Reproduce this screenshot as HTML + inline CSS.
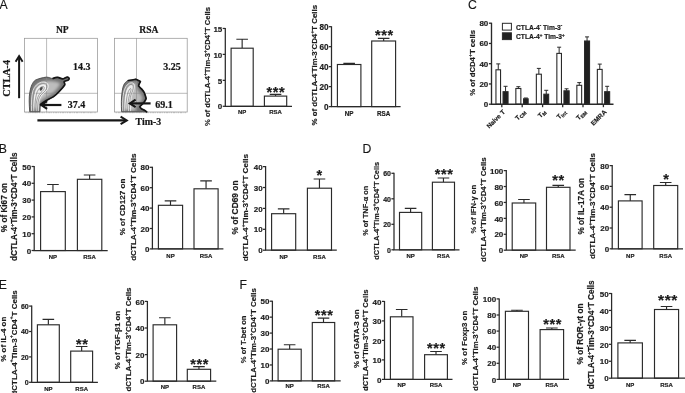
<!DOCTYPE html>
<html><head><meta charset="utf-8"><title>Figure</title>
<style>
html,body{margin:0;padding:0;background:#fff;}
body{width:685px;height:393px;overflow:hidden;font-family:"Liberation Sans",sans-serif;}
svg{display:block;filter:grayscale(1);}
svg text{white-space:pre;}
</style></head><body>
<svg width="685" height="393" viewBox="0 0 685 393">
<rect width="685" height="393" fill="#fff"/>
<g font-family="Liberation Sans, sans-serif" font-weight="bold" fill="#1c1c1c" stroke="#1c1c1c" stroke-width="0.18">
<path d="M242.15 48.20V39.20M236.35 39.20H247.95" stroke="#2a2a2a" stroke-width="1.15" fill="none"/>
<rect x="231.10" y="48.20" width="22.10" height="58.10" fill="#fff" stroke="#2a2a2a" stroke-width="1.15"/>
<text x="242.15" y="114.30" text-anchor="middle" font-size="6.0">NP</text>
<path d="M275.55 96.10V94.40M269.75 94.40H281.35" stroke="#2a2a2a" stroke-width="1.15" fill="none"/>
<rect x="264.40" y="96.10" width="22.30" height="10.20" fill="#fff" stroke="#2a2a2a" stroke-width="1.15"/>
<text x="275.90" y="97.49" text-anchor="middle" font-size="14.5" letter-spacing="0.6">***</text>
<text x="275.55" y="114.30" text-anchor="middle" font-size="6.0">RSA</text>
<path d="M225.30 27.95V106.30H292.00" stroke="#2a2a2a" stroke-width="1.25" fill="none"/>
<path d="M222.70 106.30H225.30" stroke="#2a2a2a" stroke-width="1.25"/>
<text x="222.30" y="109.48" text-anchor="end" font-size="8.0">0</text>
<path d="M222.70 80.35H225.30" stroke="#2a2a2a" stroke-width="1.25"/>
<text x="222.30" y="83.53" text-anchor="end" font-size="8.0">5</text>
<path d="M222.70 54.40H225.30" stroke="#2a2a2a" stroke-width="1.25"/>
<text x="222.30" y="57.58" text-anchor="end" font-size="8.0">10</text>
<path d="M222.70 28.45H225.30" stroke="#2a2a2a" stroke-width="1.25"/>
<text x="222.30" y="31.63" text-anchor="end" font-size="8.0">15</text>
<text transform="translate(209.80,66.50) rotate(-90)" text-anchor="middle" font-size="7.6" >% of dCTLA-4<tspan dy="-0.58em" font-size="0.66em">+</tspan><tspan dy="0.3828em">Tim-3</tspan><tspan dy="-0.58em" font-size="0.66em">+</tspan><tspan dy="0.3828em">CD4</tspan><tspan dy="-0.58em" font-size="0.66em">+</tspan><tspan dy="0.3828em">T Cells</tspan></text>
<path d="M349.15 64.50V63.40M343.35 63.40H354.95" stroke="#2a2a2a" stroke-width="1.15" fill="none"/>
<rect x="337.40" y="64.50" width="23.50" height="42.10" fill="#fff" stroke="#2a2a2a" stroke-width="1.15"/>
<text x="349.15" y="115.50" text-anchor="middle" font-size="6.3">NP</text>
<path d="M383.65 41.00V38.30M377.85 38.30H389.45" stroke="#2a2a2a" stroke-width="1.15" fill="none"/>
<rect x="371.70" y="41.00" width="23.90" height="65.60" fill="#fff" stroke="#2a2a2a" stroke-width="1.15"/>
<text x="384.30" y="40.09" text-anchor="middle" font-size="14.5" letter-spacing="0.6">***</text>
<text x="383.65" y="115.50" text-anchor="middle" font-size="6.3">RSA</text>
<path d="M331.50 26.20V106.60H400.60" stroke="#2a2a2a" stroke-width="1.25" fill="none"/>
<path d="M328.90 106.60H331.50" stroke="#2a2a2a" stroke-width="1.25"/>
<text x="328.50" y="109.85" text-anchor="end" font-size="8.2">0</text>
<path d="M328.90 86.62H331.50" stroke="#2a2a2a" stroke-width="1.25"/>
<text x="328.50" y="89.88" text-anchor="end" font-size="8.2">20</text>
<path d="M328.90 66.65H331.50" stroke="#2a2a2a" stroke-width="1.25"/>
<text x="328.50" y="69.90" text-anchor="end" font-size="8.2">40</text>
<path d="M328.90 46.67H331.50" stroke="#2a2a2a" stroke-width="1.25"/>
<text x="328.50" y="49.93" text-anchor="end" font-size="8.2">60</text>
<path d="M328.90 26.70H331.50" stroke="#2a2a2a" stroke-width="1.25"/>
<text x="328.50" y="29.95" text-anchor="end" font-size="8.2">80</text>
<text transform="translate(316.60,65.20) rotate(-90)" text-anchor="middle" font-size="7.88" >% of dCTLA-4<tspan dy="-0.58em" font-size="0.66em">-</tspan><tspan dy="0.3828em">Tim-3</tspan><tspan dy="-0.58em" font-size="0.66em">-</tspan><tspan dy="0.3828em">CD4</tspan><tspan dy="-0.58em" font-size="0.66em">+</tspan><tspan dy="0.3828em">T Cells</tspan></text>
<path d="M52.95 191.60V184.50M47.15 184.50H58.75" stroke="#2a2a2a" stroke-width="1.15" fill="none"/>
<rect x="40.60" y="191.60" width="24.70" height="58.90" fill="#fff" stroke="#2a2a2a" stroke-width="1.15"/>
<text x="52.95" y="258.60" text-anchor="middle" font-size="6.0">NP</text>
<path d="M89.60 179.30V175.00M83.80 175.00H95.40" stroke="#2a2a2a" stroke-width="1.15" fill="none"/>
<rect x="77.40" y="179.30" width="24.40" height="71.20" fill="#fff" stroke="#2a2a2a" stroke-width="1.15"/>
<text x="89.60" y="258.60" text-anchor="middle" font-size="6.0">RSA</text>
<path d="M34.20 166.00V250.50H107.70" stroke="#2a2a2a" stroke-width="1.25" fill="none"/>
<path d="M31.60 250.50H34.20" stroke="#2a2a2a" stroke-width="1.25"/>
<text x="31.20" y="253.68" text-anchor="end" font-size="8.0">0</text>
<path d="M31.60 233.70H34.20" stroke="#2a2a2a" stroke-width="1.25"/>
<text x="31.20" y="236.88" text-anchor="end" font-size="8.0">10</text>
<path d="M31.60 216.90H34.20" stroke="#2a2a2a" stroke-width="1.25"/>
<text x="31.20" y="220.08" text-anchor="end" font-size="8.0">20</text>
<path d="M31.60 200.10H34.20" stroke="#2a2a2a" stroke-width="1.25"/>
<text x="31.20" y="203.28" text-anchor="end" font-size="8.0">30</text>
<path d="M31.60 183.30H34.20" stroke="#2a2a2a" stroke-width="1.25"/>
<text x="31.20" y="186.48" text-anchor="end" font-size="8.0">40</text>
<path d="M31.60 166.50H34.20" stroke="#2a2a2a" stroke-width="1.25"/>
<text x="31.20" y="169.68" text-anchor="end" font-size="8.0">50</text>
<text transform="translate(6.80,207.60) rotate(-90)" text-anchor="middle" font-size="8.2" >% of Ki67 on</text>
<text transform="translate(17.40,206.80) rotate(-90)" text-anchor="middle" font-size="8.2" >dCTLA-4<tspan dy="-0.58em" font-size="0.66em">+</tspan><tspan dy="0.3828em">Tim-3</tspan><tspan dy="-0.58em" font-size="0.66em">+</tspan><tspan dy="0.3828em">CD4</tspan><tspan dy="-0.58em" font-size="0.66em">+</tspan><tspan dy="0.3828em">T Cells</tspan></text>
<path d="M170.50 205.30V200.90M164.70 200.90H176.30" stroke="#2a2a2a" stroke-width="1.15" fill="none"/>
<rect x="158.40" y="205.30" width="24.20" height="43.60" fill="#fff" stroke="#2a2a2a" stroke-width="1.15"/>
<text x="170.50" y="257.70" text-anchor="middle" font-size="6.0">NP</text>
<path d="M206.05 188.80V180.90M200.25 180.90H211.85" stroke="#2a2a2a" stroke-width="1.15" fill="none"/>
<rect x="194.00" y="188.80" width="24.10" height="60.10" fill="#fff" stroke="#2a2a2a" stroke-width="1.15"/>
<text x="206.05" y="257.70" text-anchor="middle" font-size="6.0">RSA</text>
<path d="M152.40 166.80V248.90H223.40" stroke="#2a2a2a" stroke-width="1.25" fill="none"/>
<path d="M149.80 248.90H152.40" stroke="#2a2a2a" stroke-width="1.25"/>
<text x="149.40" y="252.08" text-anchor="end" font-size="8.0">0</text>
<path d="M149.80 228.50H152.40" stroke="#2a2a2a" stroke-width="1.25"/>
<text x="149.40" y="231.68" text-anchor="end" font-size="8.0">20</text>
<path d="M149.80 208.10H152.40" stroke="#2a2a2a" stroke-width="1.25"/>
<text x="149.40" y="211.28" text-anchor="end" font-size="8.0">40</text>
<path d="M149.80 187.70H152.40" stroke="#2a2a2a" stroke-width="1.25"/>
<text x="149.40" y="190.88" text-anchor="end" font-size="8.0">60</text>
<path d="M149.80 167.30H152.40" stroke="#2a2a2a" stroke-width="1.25"/>
<text x="149.40" y="170.48" text-anchor="end" font-size="8.0">80</text>
<text transform="translate(125.10,207.00) rotate(-90)" text-anchor="middle" font-size="8.1" >% of CD127 on</text>
<text transform="translate(135.80,207.20) rotate(-90)" text-anchor="middle" font-size="8.1" >dCTLA-4<tspan dy="-0.58em" font-size="0.66em">+</tspan><tspan dy="0.3828em">Tim-3</tspan><tspan dy="-0.58em" font-size="0.66em">+</tspan><tspan dy="0.3828em">CD4</tspan><tspan dy="-0.58em" font-size="0.66em">+</tspan><tspan dy="0.3828em">T Cells</tspan></text>
<path d="M283.65 213.70V208.90M277.85 208.90H289.45" stroke="#2a2a2a" stroke-width="1.15" fill="none"/>
<rect x="271.60" y="213.70" width="24.10" height="36.50" fill="#fff" stroke="#2a2a2a" stroke-width="1.15"/>
<text x="283.65" y="258.60" text-anchor="middle" font-size="6.0">NP</text>
<path d="M319.45 188.20V179.00M313.65 179.00H325.25" stroke="#2a2a2a" stroke-width="1.15" fill="none"/>
<rect x="307.40" y="188.20" width="24.10" height="62.00" fill="#fff" stroke="#2a2a2a" stroke-width="1.15"/>
<text x="319.70" y="180.19" text-anchor="middle" font-size="14.5" letter-spacing="0.6">*</text>
<text x="319.45" y="258.60" text-anchor="middle" font-size="6.0">RSA</text>
<path d="M265.60 166.10V250.20H336.80" stroke="#2a2a2a" stroke-width="1.25" fill="none"/>
<path d="M263.00 250.20H265.60" stroke="#2a2a2a" stroke-width="1.25"/>
<text x="262.60" y="253.38" text-anchor="end" font-size="8.0">0</text>
<path d="M263.00 229.30H265.60" stroke="#2a2a2a" stroke-width="1.25"/>
<text x="262.60" y="232.48" text-anchor="end" font-size="8.0">10</text>
<path d="M263.00 208.40H265.60" stroke="#2a2a2a" stroke-width="1.25"/>
<text x="262.60" y="211.58" text-anchor="end" font-size="8.0">20</text>
<path d="M263.00 187.50H265.60" stroke="#2a2a2a" stroke-width="1.25"/>
<text x="262.60" y="190.68" text-anchor="end" font-size="8.0">30</text>
<path d="M263.00 166.60H265.60" stroke="#2a2a2a" stroke-width="1.25"/>
<text x="262.60" y="169.78" text-anchor="end" font-size="8.0">40</text>
<text transform="translate(237.50,207.40) rotate(-90)" text-anchor="middle" font-size="8.4" >% of CD69 on</text>
<text transform="translate(248.10,207.70) rotate(-90)" text-anchor="middle" font-size="8.1" >dCTLA-4<tspan dy="-0.58em" font-size="0.66em">+</tspan><tspan dy="0.3828em">Tim-3</tspan><tspan dy="-0.58em" font-size="0.66em">+</tspan><tspan dy="0.3828em">CD4</tspan><tspan dy="-0.58em" font-size="0.66em">+</tspan><tspan dy="0.3828em">T Cells</tspan></text>
<path d="M410.60 212.40V208.40M404.80 208.40H416.40" stroke="#2a2a2a" stroke-width="1.15" fill="none"/>
<rect x="399.50" y="212.40" width="22.20" height="37.40" fill="#fff" stroke="#2a2a2a" stroke-width="1.15"/>
<text x="410.60" y="257.70" text-anchor="middle" font-size="6.0">NP</text>
<path d="M443.45 182.20V178.00M437.65 178.00H449.25" stroke="#2a2a2a" stroke-width="1.15" fill="none"/>
<rect x="432.40" y="182.20" width="22.10" height="67.60" fill="#fff" stroke="#2a2a2a" stroke-width="1.15"/>
<text x="444.10" y="179.29" text-anchor="middle" font-size="14.5" letter-spacing="0.6">***</text>
<text x="443.45" y="257.70" text-anchor="middle" font-size="6.0">RSA</text>
<path d="M394.00 172.80V249.80H459.50" stroke="#2a2a2a" stroke-width="1.25" fill="none"/>
<path d="M391.40 249.80H394.00" stroke="#2a2a2a" stroke-width="1.25"/>
<text x="391.00" y="252.62" text-anchor="end" font-size="7.0">0</text>
<path d="M391.40 224.30H394.00" stroke="#2a2a2a" stroke-width="1.25"/>
<text x="391.00" y="227.12" text-anchor="end" font-size="7.0">20</text>
<path d="M391.40 198.80H394.00" stroke="#2a2a2a" stroke-width="1.25"/>
<text x="391.00" y="201.62" text-anchor="end" font-size="7.0">40</text>
<path d="M391.40 173.30H394.00" stroke="#2a2a2a" stroke-width="1.25"/>
<text x="391.00" y="176.12" text-anchor="end" font-size="7.0">60</text>
<text transform="translate(368.30,210.80) rotate(-90)" text-anchor="middle" font-size="7.4" >% of TNF-α on</text>
<text transform="translate(378.60,210.80) rotate(-90)" text-anchor="middle" font-size="7.4" >dCTLA-4<tspan dy="-0.58em" font-size="0.66em">+</tspan><tspan dy="0.3828em">Tim-3</tspan><tspan dy="-0.58em" font-size="0.66em">+</tspan><tspan dy="0.3828em">CD4</tspan><tspan dy="-0.58em" font-size="0.66em">+</tspan><tspan dy="0.3828em">T Cells</tspan></text>
<path d="M523.95 203.00V199.50M518.15 199.50H529.75" stroke="#2a2a2a" stroke-width="1.15" fill="none"/>
<rect x="512.20" y="203.00" width="23.50" height="47.20" fill="#fff" stroke="#2a2a2a" stroke-width="1.15"/>
<text x="523.95" y="258.20" text-anchor="middle" font-size="6.0">NP</text>
<path d="M558.25 187.30V185.40M552.45 185.40H564.05" stroke="#2a2a2a" stroke-width="1.15" fill="none"/>
<rect x="546.50" y="187.30" width="23.50" height="62.90" fill="#fff" stroke="#2a2a2a" stroke-width="1.15"/>
<text x="558.40" y="185.49" text-anchor="middle" font-size="14.5" letter-spacing="0.6">**</text>
<text x="558.25" y="258.20" text-anchor="middle" font-size="6.0">RSA</text>
<path d="M506.30 170.10V250.20H575.70" stroke="#2a2a2a" stroke-width="1.25" fill="none"/>
<path d="M503.70 250.20H506.30" stroke="#2a2a2a" stroke-width="1.25"/>
<text x="503.30" y="253.38" text-anchor="end" font-size="8.0">0</text>
<path d="M503.70 234.28H506.30" stroke="#2a2a2a" stroke-width="1.25"/>
<text x="503.30" y="237.46" text-anchor="end" font-size="8.0">20</text>
<path d="M503.70 218.36H506.30" stroke="#2a2a2a" stroke-width="1.25"/>
<text x="503.30" y="221.54" text-anchor="end" font-size="8.0">40</text>
<path d="M503.70 202.44H506.30" stroke="#2a2a2a" stroke-width="1.25"/>
<text x="503.30" y="205.62" text-anchor="end" font-size="8.0">60</text>
<path d="M503.70 186.52H506.30" stroke="#2a2a2a" stroke-width="1.25"/>
<text x="503.30" y="189.70" text-anchor="end" font-size="8.0">80</text>
<path d="M503.70 170.60H506.30" stroke="#2a2a2a" stroke-width="1.25"/>
<text x="503.30" y="173.78" text-anchor="end" font-size="8.0">100</text>
<text transform="translate(475.50,209.20) rotate(-90)" text-anchor="middle" font-size="7.65" >% of IFN-γ on</text>
<text transform="translate(486.30,209.60) rotate(-90)" text-anchor="middle" font-size="7.9" >dCTLA-4<tspan dy="-0.58em" font-size="0.66em">+</tspan><tspan dy="0.3828em">Tim-3</tspan><tspan dy="-0.58em" font-size="0.66em">+</tspan><tspan dy="0.3828em">CD4</tspan><tspan dy="-0.58em" font-size="0.66em">+</tspan><tspan dy="0.3828em">T Cells</tspan></text>
<path d="M630.25 200.90V194.60M624.45 194.60H636.05" stroke="#2a2a2a" stroke-width="1.15" fill="none"/>
<rect x="618.40" y="200.90" width="23.70" height="47.90" fill="#fff" stroke="#2a2a2a" stroke-width="1.15"/>
<text x="630.25" y="257.70" text-anchor="middle" font-size="6.0">NP</text>
<path d="M665.70 185.50V182.50M659.90 182.50H671.50" stroke="#2a2a2a" stroke-width="1.15" fill="none"/>
<rect x="653.70" y="185.50" width="24.00" height="63.30" fill="#fff" stroke="#2a2a2a" stroke-width="1.15"/>
<text x="666.40" y="183.79" text-anchor="middle" font-size="14.5" letter-spacing="0.6">*</text>
<text x="665.70" y="257.70" text-anchor="middle" font-size="6.0">RSA</text>
<path d="M612.20 165.10V248.80H683.00" stroke="#2a2a2a" stroke-width="1.25" fill="none"/>
<path d="M609.60 248.80H612.20" stroke="#2a2a2a" stroke-width="1.25"/>
<text x="609.20" y="251.98" text-anchor="end" font-size="8.0">0</text>
<path d="M609.60 228.00H612.20" stroke="#2a2a2a" stroke-width="1.25"/>
<text x="609.20" y="231.18" text-anchor="end" font-size="8.0">20</text>
<path d="M609.60 207.20H612.20" stroke="#2a2a2a" stroke-width="1.25"/>
<text x="609.20" y="210.38" text-anchor="end" font-size="8.0">40</text>
<path d="M609.60 186.40H612.20" stroke="#2a2a2a" stroke-width="1.25"/>
<text x="609.20" y="189.58" text-anchor="end" font-size="8.0">60</text>
<path d="M609.60 165.60H612.20" stroke="#2a2a2a" stroke-width="1.25"/>
<text x="609.20" y="168.78" text-anchor="end" font-size="8.0">80</text>
<text transform="translate(584.00,206.30) rotate(-90)" text-anchor="middle" font-size="8.17" >% of IL-17A on</text>
<text transform="translate(594.90,206.10) rotate(-90)" text-anchor="middle" font-size="8.0" >dCTLA-4<tspan dy="-0.58em" font-size="0.66em">+</tspan><tspan dy="0.3828em">Tim-3</tspan><tspan dy="-0.58em" font-size="0.66em">+</tspan><tspan dy="0.3828em">CD4</tspan><tspan dy="-0.58em" font-size="0.66em">+</tspan><tspan dy="0.3828em">T Cells</tspan></text>
<path d="M48.35 324.80V319.30M42.55 319.30H54.15" stroke="#2a2a2a" stroke-width="1.15" fill="none"/>
<rect x="37.40" y="324.80" width="21.90" height="57.50" fill="#fff" stroke="#2a2a2a" stroke-width="1.15"/>
<text x="48.35" y="390.70" text-anchor="middle" font-size="6.0">NP</text>
<path d="M81.65 351.10V346.50M75.85 346.50H87.45" stroke="#2a2a2a" stroke-width="1.15" fill="none"/>
<rect x="70.70" y="351.10" width="21.90" height="31.20" fill="#fff" stroke="#2a2a2a" stroke-width="1.15"/>
<text x="82.20" y="348.79" text-anchor="middle" font-size="14.5" letter-spacing="0.6">**</text>
<text x="81.65" y="390.70" text-anchor="middle" font-size="6.0">RSA</text>
<path d="M31.70 305.60V382.30H97.90" stroke="#2a2a2a" stroke-width="1.25" fill="none"/>
<path d="M29.10 382.30H31.70" stroke="#2a2a2a" stroke-width="1.25"/>
<text x="28.70" y="385.12" text-anchor="end" font-size="7.0">0</text>
<path d="M29.10 356.90H31.70" stroke="#2a2a2a" stroke-width="1.25"/>
<text x="28.70" y="359.72" text-anchor="end" font-size="7.0">20</text>
<path d="M29.10 331.50H31.70" stroke="#2a2a2a" stroke-width="1.25"/>
<text x="28.70" y="334.32" text-anchor="end" font-size="7.0">40</text>
<path d="M29.10 306.10H31.70" stroke="#2a2a2a" stroke-width="1.25"/>
<text x="28.70" y="308.92" text-anchor="end" font-size="7.0">60</text>
<text transform="translate(6.40,339.20) rotate(-90)" text-anchor="middle" font-size="7.95" >% of IL-4 on</text>
<text transform="translate(16.50,342.90) rotate(-90)" text-anchor="middle" font-size="7.95" >dCTLA-4<tspan dy="-0.58em" font-size="0.66em">+</tspan><tspan dy="0.3828em">Tim-3</tspan><tspan dy="-0.58em" font-size="0.66em">+</tspan><tspan dy="0.3828em">CD4</tspan><tspan dy="-0.58em" font-size="0.66em">+</tspan><tspan dy="0.3828em">T Cells</tspan></text>
<path d="M164.85 324.80V317.70M159.05 317.70H170.65" stroke="#2a2a2a" stroke-width="1.15" fill="none"/>
<rect x="153.10" y="324.80" width="23.50" height="56.40" fill="#fff" stroke="#2a2a2a" stroke-width="1.15"/>
<text x="164.85" y="388.90" text-anchor="middle" font-size="6.0">NP</text>
<path d="M198.95 369.30V366.60M193.15 366.60H204.75" stroke="#2a2a2a" stroke-width="1.15" fill="none"/>
<rect x="187.30" y="369.30" width="23.30" height="11.90" fill="#fff" stroke="#2a2a2a" stroke-width="1.15"/>
<text x="199.70" y="368.79" text-anchor="middle" font-size="14.5" letter-spacing="0.6">***</text>
<text x="198.95" y="388.90" text-anchor="middle" font-size="6.0">RSA</text>
<path d="M147.40 300.90V381.20H216.30" stroke="#2a2a2a" stroke-width="1.25" fill="none"/>
<path d="M144.80 381.20H147.40" stroke="#2a2a2a" stroke-width="1.25"/>
<text x="144.40" y="384.38" text-anchor="end" font-size="8.0">0</text>
<path d="M144.80 354.60H147.40" stroke="#2a2a2a" stroke-width="1.25"/>
<text x="144.40" y="357.78" text-anchor="end" font-size="8.0">20</text>
<path d="M144.80 328.00H147.40" stroke="#2a2a2a" stroke-width="1.25"/>
<text x="144.40" y="331.18" text-anchor="end" font-size="8.0">40</text>
<path d="M144.80 301.40H147.40" stroke="#2a2a2a" stroke-width="1.25"/>
<text x="144.40" y="304.58" text-anchor="end" font-size="8.0">60</text>
<text transform="translate(119.90,340.00) rotate(-90)" text-anchor="middle" font-size="7.9" >% of TGF-β1 on</text>
<text transform="translate(130.70,339.50) rotate(-90)" text-anchor="middle" font-size="7.85" >dCTLA-4<tspan dy="-0.58em" font-size="0.66em">+</tspan><tspan dy="0.3828em">Tim-3</tspan><tspan dy="-0.58em" font-size="0.66em">+</tspan><tspan dy="0.3828em">CD4</tspan><tspan dy="-0.58em" font-size="0.66em">+</tspan><tspan dy="0.3828em">T Cells</tspan></text>
<path d="M289.65 349.20V344.70M283.85 344.70H295.45" stroke="#2a2a2a" stroke-width="1.15" fill="none"/>
<rect x="278.10" y="349.20" width="23.10" height="31.70" fill="#fff" stroke="#2a2a2a" stroke-width="1.15"/>
<text x="289.65" y="388.00" text-anchor="middle" font-size="6.0">NP</text>
<path d="M323.50 322.50V318.10M317.70 318.10H329.30" stroke="#2a2a2a" stroke-width="1.15" fill="none"/>
<rect x="312.30" y="322.50" width="22.40" height="58.40" fill="#fff" stroke="#2a2a2a" stroke-width="1.15"/>
<text x="324.10" y="319.79" text-anchor="middle" font-size="14.5" letter-spacing="0.6">***</text>
<text x="323.50" y="388.00" text-anchor="middle" font-size="6.0">RSA</text>
<path d="M272.40 300.70V380.90H340.70" stroke="#2a2a2a" stroke-width="1.25" fill="none"/>
<path d="M269.80 380.90H272.40" stroke="#2a2a2a" stroke-width="1.25"/>
<text x="269.40" y="384.08" text-anchor="end" font-size="8.0">0</text>
<path d="M269.80 364.96H272.40" stroke="#2a2a2a" stroke-width="1.25"/>
<text x="269.40" y="368.14" text-anchor="end" font-size="8.0">10</text>
<path d="M269.80 349.02H272.40" stroke="#2a2a2a" stroke-width="1.25"/>
<text x="269.40" y="352.20" text-anchor="end" font-size="8.0">20</text>
<path d="M269.80 333.08H272.40" stroke="#2a2a2a" stroke-width="1.25"/>
<text x="269.40" y="336.26" text-anchor="end" font-size="8.0">30</text>
<path d="M269.80 317.14H272.40" stroke="#2a2a2a" stroke-width="1.25"/>
<text x="269.40" y="320.32" text-anchor="end" font-size="8.0">40</text>
<path d="M269.80 301.20H272.40" stroke="#2a2a2a" stroke-width="1.25"/>
<text x="269.40" y="304.38" text-anchor="end" font-size="8.0">50</text>
<text transform="translate(245.60,339.40) rotate(-90)" text-anchor="middle" font-size="7.6" >% of T-bet on</text>
<text transform="translate(256.00,340.50) rotate(-90)" text-anchor="middle" font-size="7.9" >dCTLA-4<tspan dy="-0.58em" font-size="0.66em">+</tspan><tspan dy="0.3828em">Tim-3</tspan><tspan dy="-0.58em" font-size="0.66em">+</tspan><tspan dy="0.3828em">CD4</tspan><tspan dy="-0.58em" font-size="0.66em">+</tspan><tspan dy="0.3828em">T Cells</tspan></text>
<path d="M401.70 316.80V309.50M395.90 309.50H407.50" stroke="#2a2a2a" stroke-width="1.15" fill="none"/>
<rect x="390.40" y="316.80" width="22.60" height="62.60" fill="#fff" stroke="#2a2a2a" stroke-width="1.15"/>
<text x="401.70" y="387.10" text-anchor="middle" font-size="6.0">NP</text>
<path d="M436.00 354.70V351.50M430.20 351.50H441.80" stroke="#2a2a2a" stroke-width="1.15" fill="none"/>
<rect x="424.60" y="354.70" width="22.80" height="24.70" fill="#fff" stroke="#2a2a2a" stroke-width="1.15"/>
<text x="436.40" y="353.09" text-anchor="middle" font-size="14.5" letter-spacing="0.6">***</text>
<text x="436.00" y="387.10" text-anchor="middle" font-size="6.0">RSA</text>
<path d="M384.50 300.90V379.40H452.50" stroke="#2a2a2a" stroke-width="1.25" fill="none"/>
<path d="M381.90 379.40H384.50" stroke="#2a2a2a" stroke-width="1.25"/>
<text x="381.50" y="382.58" text-anchor="end" font-size="8.0">0</text>
<path d="M381.90 359.90H384.50" stroke="#2a2a2a" stroke-width="1.25"/>
<text x="381.50" y="363.08" text-anchor="end" font-size="8.0">10</text>
<path d="M381.90 340.40H384.50" stroke="#2a2a2a" stroke-width="1.25"/>
<text x="381.50" y="343.58" text-anchor="end" font-size="8.0">20</text>
<path d="M381.90 320.90H384.50" stroke="#2a2a2a" stroke-width="1.25"/>
<text x="381.50" y="324.08" text-anchor="end" font-size="8.0">30</text>
<path d="M381.90 301.40H384.50" stroke="#2a2a2a" stroke-width="1.25"/>
<text x="381.50" y="304.58" text-anchor="end" font-size="8.0">40</text>
<text transform="translate(358.50,338.80) rotate(-90)" text-anchor="middle" font-size="7.85" >% of GATA-3 on</text>
<text transform="translate(368.40,340.20) rotate(-90)" text-anchor="middle" font-size="7.66" >dCTLA-4<tspan dy="-0.58em" font-size="0.66em">+</tspan><tspan dy="0.3828em">Tim-3</tspan><tspan dy="-0.58em" font-size="0.66em">+</tspan><tspan dy="0.3828em">CD4</tspan><tspan dy="-0.58em" font-size="0.66em">+</tspan><tspan dy="0.3828em">T Cells</tspan></text>
<path d="M516.95 311.30V310.20M511.15 310.20H522.75" stroke="#2a2a2a" stroke-width="1.15" fill="none"/>
<rect x="505.40" y="311.30" width="23.10" height="68.10" fill="#fff" stroke="#2a2a2a" stroke-width="1.15"/>
<text x="516.95" y="387.10" text-anchor="middle" font-size="6.0">NP</text>
<path d="M551.85 329.60V328.00M546.05 328.00H557.65" stroke="#2a2a2a" stroke-width="1.15" fill="none"/>
<rect x="540.10" y="329.60" width="23.50" height="49.80" fill="#fff" stroke="#2a2a2a" stroke-width="1.15"/>
<text x="552.70" y="329.09" text-anchor="middle" font-size="14.5" letter-spacing="0.6">***</text>
<text x="551.85" y="387.10" text-anchor="middle" font-size="6.0">RSA</text>
<path d="M499.20 298.40V379.40H569.00" stroke="#2a2a2a" stroke-width="1.25" fill="none"/>
<path d="M496.60 379.40H499.20" stroke="#2a2a2a" stroke-width="1.25"/>
<text x="496.20" y="382.58" text-anchor="end" font-size="8.0">0</text>
<path d="M496.60 363.30H499.20" stroke="#2a2a2a" stroke-width="1.25"/>
<text x="496.20" y="366.48" text-anchor="end" font-size="8.0">20</text>
<path d="M496.60 347.20H499.20" stroke="#2a2a2a" stroke-width="1.25"/>
<text x="496.20" y="350.38" text-anchor="end" font-size="8.0">40</text>
<path d="M496.60 331.10H499.20" stroke="#2a2a2a" stroke-width="1.25"/>
<text x="496.20" y="334.28" text-anchor="end" font-size="8.0">60</text>
<path d="M496.60 315.00H499.20" stroke="#2a2a2a" stroke-width="1.25"/>
<text x="496.20" y="318.18" text-anchor="end" font-size="8.0">80</text>
<path d="M496.60 298.90H499.20" stroke="#2a2a2a" stroke-width="1.25"/>
<text x="496.20" y="302.08" text-anchor="end" font-size="8.0">100</text>
<text transform="translate(467.40,337.80) rotate(-90)" text-anchor="middle" font-size="7.95" >% of Foxp3 on</text>
<text transform="translate(478.10,338.80) rotate(-90)" text-anchor="middle" font-size="7.87" >dCTLA-4<tspan dy="-0.58em" font-size="0.66em">+</tspan><tspan dy="0.3828em">Tim-3</tspan><tspan dy="-0.58em" font-size="0.66em">+</tspan><tspan dy="0.3828em">CD4</tspan><tspan dy="-0.58em" font-size="0.66em">+</tspan><tspan dy="0.3828em">T Cells</tspan></text>
<path d="M630.15 342.90V340.30M624.35 340.30H635.95" stroke="#2a2a2a" stroke-width="1.15" fill="none"/>
<rect x="617.90" y="342.90" width="24.50" height="35.30" fill="#fff" stroke="#2a2a2a" stroke-width="1.15"/>
<text x="630.15" y="386.60" text-anchor="middle" font-size="6">NP</text>
<path d="M666.55 309.50V306.50M660.75 306.50H672.35" stroke="#2a2a2a" stroke-width="1.15" fill="none"/>
<rect x="654.50" y="309.50" width="24.10" height="68.70" fill="#fff" stroke="#2a2a2a" stroke-width="1.15"/>
<text x="668.00" y="305.46" text-anchor="middle" font-size="15.5" letter-spacing="0.6">***</text>
<text x="666.55" y="386.60" text-anchor="middle" font-size="6">RSA</text>
<path d="M611.60 293.00V378.20H690.00" stroke="#2a2a2a" stroke-width="1.25" fill="none"/>
<path d="M609.00 378.20H611.60" stroke="#2a2a2a" stroke-width="1.25"/>
<text x="608.60" y="381.38" text-anchor="end" font-size="8.0">0</text>
<path d="M609.00 361.26H611.60" stroke="#2a2a2a" stroke-width="1.25"/>
<text x="608.60" y="364.44" text-anchor="end" font-size="8.0">10</text>
<path d="M609.00 344.32H611.60" stroke="#2a2a2a" stroke-width="1.25"/>
<text x="608.60" y="347.50" text-anchor="end" font-size="8.0">20</text>
<path d="M609.00 327.38H611.60" stroke="#2a2a2a" stroke-width="1.25"/>
<text x="608.60" y="330.56" text-anchor="end" font-size="8.0">30</text>
<path d="M609.00 310.44H611.60" stroke="#2a2a2a" stroke-width="1.25"/>
<text x="608.60" y="313.62" text-anchor="end" font-size="8.0">40</text>
<path d="M609.00 293.50H611.60" stroke="#2a2a2a" stroke-width="1.25"/>
<text x="608.60" y="296.68" text-anchor="end" font-size="8.0">50</text>
<text transform="translate(583.30,334.00) rotate(-90)" text-anchor="middle" font-size="8.35" >% of ROR-γt on</text>
<text transform="translate(594.40,334.80) rotate(-90)" text-anchor="middle" font-size="8.23" >dCTLA-4<tspan dy="-0.58em" font-size="0.66em">+</tspan><tspan dy="0.3828em">Tim-3</tspan><tspan dy="-0.58em" font-size="0.66em">+</tspan><tspan dy="0.3828em">CD4</tspan><tspan dy="-0.58em" font-size="0.66em">+</tspan><tspan dy="0.3828em">T Cells</tspan></text>
<path d="M498.25 69.80V63.90M496.25 63.90H500.25" stroke="#2a2a2a" stroke-width="1" fill="none"/>
<rect x="495.95" y="69.80" width="4.60" height="34.40" fill="#fff" stroke="#2a2a2a" stroke-width="1.1"/>
<path d="M505.55 91.70V86.30M503.55 86.30H507.55" stroke="#2a2a2a" stroke-width="1" fill="none"/>
<rect x="503.05" y="91.70" width="5.00" height="12.50" fill="#231f20" stroke="#2a2a2a" stroke-width="1.1"/>
<path d="M501.80 104.20V107.20" stroke="#2a2a2a" stroke-width="1.3"/>
<path d="M518.35 88.50V86.70M516.35 86.70H520.35" stroke="#2a2a2a" stroke-width="1" fill="none"/>
<rect x="515.85" y="88.50" width="5.00" height="15.70" fill="#fff" stroke="#2a2a2a" stroke-width="1.1"/>
<path d="M525.85 98.80V98.00M523.85 98.00H527.85" stroke="#2a2a2a" stroke-width="1" fill="none"/>
<rect x="523.55" y="98.80" width="4.60" height="5.40" fill="#231f20" stroke="#2a2a2a" stroke-width="1.1"/>
<path d="M522.20 104.20V107.20" stroke="#2a2a2a" stroke-width="1.3"/>
<path d="M538.85 74.20V68.40M536.85 68.40H540.85" stroke="#2a2a2a" stroke-width="1" fill="none"/>
<rect x="536.35" y="74.20" width="5.00" height="30.00" fill="#fff" stroke="#2a2a2a" stroke-width="1.1"/>
<path d="M546.25 94.20V90.30M544.25 90.30H548.25" stroke="#2a2a2a" stroke-width="1" fill="none"/>
<rect x="543.85" y="94.20" width="4.80" height="10.00" fill="#231f20" stroke="#2a2a2a" stroke-width="1.1"/>
<path d="M542.60 104.20V107.20" stroke="#2a2a2a" stroke-width="1.3"/>
<path d="M559.15 53.40V47.20M557.15 47.20H561.15" stroke="#2a2a2a" stroke-width="1" fill="none"/>
<rect x="556.85" y="53.40" width="4.60" height="50.80" fill="#fff" stroke="#2a2a2a" stroke-width="1.1"/>
<path d="M566.55 90.80V88.80M564.55 88.80H568.55" stroke="#2a2a2a" stroke-width="1" fill="none"/>
<rect x="563.95" y="90.80" width="5.20" height="13.40" fill="#231f20" stroke="#2a2a2a" stroke-width="1.1"/>
<path d="M562.70 104.20V107.20" stroke="#2a2a2a" stroke-width="1.3"/>
<path d="M579.25 85.30V82.60M577.25 82.60H581.25" stroke="#2a2a2a" stroke-width="1" fill="none"/>
<rect x="576.85" y="85.30" width="4.80" height="18.90" fill="#fff" stroke="#2a2a2a" stroke-width="1.1"/>
<path d="M587.05 41.00V36.90M585.05 36.90H589.05" stroke="#2a2a2a" stroke-width="1" fill="none"/>
<rect x="584.55" y="41.00" width="5.00" height="63.20" fill="#231f20" stroke="#2a2a2a" stroke-width="1.1"/>
<path d="M583.00 104.20V107.20" stroke="#2a2a2a" stroke-width="1.3"/>
<path d="M599.75 69.40V64.10M597.75 64.10H601.75" stroke="#2a2a2a" stroke-width="1" fill="none"/>
<rect x="597.35" y="69.40" width="4.80" height="34.80" fill="#fff" stroke="#2a2a2a" stroke-width="1.1"/>
<path d="M607.15 91.70V86.30M605.15 86.30H609.15" stroke="#2a2a2a" stroke-width="1" fill="none"/>
<rect x="604.65" y="91.70" width="5.00" height="12.50" fill="#231f20" stroke="#2a2a2a" stroke-width="1.1"/>
<path d="M603.40 104.20V107.20" stroke="#2a2a2a" stroke-width="1.3"/>
<path d="M491.50 22.70V104.20H613.5" stroke="#2a2a2a" stroke-width="1.35" fill="none"/>
<path d="M488.90 104.20H491.50" stroke="#2a2a2a" stroke-width="1.3"/>
<text x="488.30" y="107.05" text-anchor="end" font-size="8">0</text>
<path d="M488.90 83.95H491.50" stroke="#2a2a2a" stroke-width="1.3"/>
<text x="488.30" y="86.80" text-anchor="end" font-size="8">20</text>
<path d="M488.90 63.70H491.50" stroke="#2a2a2a" stroke-width="1.3"/>
<text x="488.30" y="66.55" text-anchor="end" font-size="8">40</text>
<path d="M488.90 43.45H491.50" stroke="#2a2a2a" stroke-width="1.3"/>
<text x="488.30" y="46.30" text-anchor="end" font-size="8">60</text>
<path d="M488.90 23.20H491.50" stroke="#2a2a2a" stroke-width="1.3"/>
<text x="488.30" y="26.05" text-anchor="end" font-size="8">80</text>
<text transform="translate(475.20,62.90) rotate(-90)" text-anchor="middle" font-size="7.75" >% of dCD4<tspan dy="-0.58em" font-size="0.66em">+</tspan><tspan dy="0.3828em">T cells</tspan></text>
<rect x="502.4" y="23.3" width="9" height="6.8" fill="#fff" stroke="#2a2a2a" stroke-width="1"/>
<rect x="502.4" y="32.8" width="9" height="6.8" fill="#231f20" stroke="#2a2a2a" stroke-width="1"/>
<text x="516" y="29.7" font-size="6.7">CTLA-4<tspan dy="-0.58em" font-size="0.66em">-</tspan><tspan dy="0.3828em"> Tim-3</tspan><tspan dy="-0.58em" font-size="0.66em">-</tspan></text>
<text x="516" y="39.2" font-size="6.7">CTLA-4<tspan dy="-0.58em" font-size="0.66em">+</tspan><tspan dy="0.3828em"> Tim-3</tspan><tspan dy="-0.58em" font-size="0.66em">+</tspan></text>
<text transform="translate(505.50,112.50) rotate(-45)" text-anchor="end" font-size="6.5">Naive T</text>
<text transform="translate(526.00,112.50) rotate(-45)" text-anchor="end" font-size="6.5">T<tspan dy="1.3" font-size="4.9">CM</tspan></text>
<text transform="translate(546.30,112.50) rotate(-45)" text-anchor="end" font-size="6.5">T<tspan dy="1.3" font-size="4.9">M</tspan></text>
<text transform="translate(566.40,112.50) rotate(-45)" text-anchor="end" font-size="6.5">T<tspan dy="1.3" font-size="4.9">int</tspan></text>
<text transform="translate(586.70,112.50) rotate(-45)" text-anchor="end" font-size="6.5">T<tspan dy="1.3" font-size="4.9">EM</tspan></text>
<text transform="translate(607.00,112.50) rotate(-45)" text-anchor="end" font-size="6.5">EMRA</text>
</g>
<g font-family="Liberation Sans, sans-serif" fill="#151515" font-size="13.6" stroke="#151515" stroke-width="0.15">
<text transform="translate(-0.4,9.4) scale(0.9,1)">A</text>
<text transform="translate(468.0,8.8) scale(0.9,1)">C</text>
<text transform="translate(-1.2,153.3) scale(0.9,1)">B</text>
<text transform="translate(362.4,153.3) scale(0.9,1)">D</text>
<text transform="translate(-1.2,289.2) scale(0.9,1)">E</text>
<text transform="translate(239.4,289.2) scale(0.9,1)">F</text>
</g>
<defs><filter id="bl" x="-30%" y="-30%" width="160%" height="160%"><feGaussianBlur stdDeviation="1.6"/></filter><filter id="bl2" x="-30%" y="-30%" width="160%" height="160%"><feGaussianBlur stdDeviation="0.9"/></filter></defs>
<rect x="24.4" y="38.3" width="73.20" height="73.70" fill="#fff" stroke="#969696" stroke-width="0.75"/>
<path d="M25.4 112.7H96.6" stroke="#9a9a9a" stroke-width="0.6" stroke-dasharray="1.3 0.9 2.1 0.7 0.8 1.1"/>
<clipPath id="cp1"><path d="M29.7 111.8 C29.2 104 28.8 97 29.9 92 C31 86 32.5 82.5 35.2 80.2 C39 78.4 43 77.6 46.3 77.1 C49 77 51 78.8 53.2 78.4 C55 77.6 56.5 77.2 57.8 77.4 C60 77.8 61.5 79.2 63.5 78.7 C65 78.2 66.5 76.8 68.1 77.2 C69.6 77.8 69.4 79.6 68 80.2 C66.5 80.9 65 80.8 64.2 81.6 C64 82.8 65.2 83.8 64.7 85 C63 87.5 61 89.5 59 91.8 C57 94 55.3 95.6 53.2 96.9 C51 98.2 48.6 99.3 46.3 100.4 C44.2 101.7 42.2 102.9 40.6 104.4 C40 106.5 40.1 109 40 111.8 Z"/></clipPath>
<path d="M29.7 111.8 C29.2 104 28.8 97 29.9 92 C31 86 32.5 82.5 35.2 80.2 C39 78.4 43 77.6 46.3 77.1 C49 77 51 78.8 53.2 78.4 C55 77.6 56.5 77.2 57.8 77.4 C60 77.8 61.5 79.2 63.5 78.7 C65 78.2 66.5 76.8 68.1 77.2 C69.6 77.8 69.4 79.6 68 80.2 C66.5 80.9 65 80.8 64.2 81.6 C64 82.8 65.2 83.8 64.7 85 C63 87.5 61 89.5 59 91.8 C57 94 55.3 95.6 53.2 96.9 C51 98.2 48.6 99.3 46.3 100.4 C44.2 101.7 42.2 102.9 40.6 104.4 C40 106.5 40.1 109 40 111.8 Z" fill="#727272"/>
<g clip-path="url(#cp1)"><path d="M33 111 C32.5 100 33 92 36 86 C40 81.5 46 80.5 50 81 C55 81 58 82 60.5 83.5 C59 87 56 90.5 52.5 93.5 C48 96.5 43 99 39 102.5 L38 111 Z" fill="#bdbdbd" filter="url(#bl)"/><path d="M33.5 108 C33 100 34 92 37 87 C40 83.5 45 83 47.5 85 C48 89 45 92 42 95 C39 98 38 103 37.5 108 Z" fill="#ededed" filter="url(#bl2)"/></g>
<path d="M46.6 38.3V112.0M24.4 93.3H97.6" stroke="#8a8a8a" stroke-width="0.7" fill="none" opacity="0.85"/>
<g clip-path="url(#cp1)"><g fill="none" stroke="#fafafa" stroke-width="0.75"><path d="M31.6 111.5 C31.2 103 31.4 96 33 90.5 C34.5 86 37.5 83.2 41.5 82.2 C45 81.5 47.8 82.6 48.2 85.3 C48.4 88.5 46.6 91 44.2 92.8 C41 95 39.4 98.5 38.8 102 C38.4 105.5 38.5 108.5 38.4 111.5"/><path d="M33.8 111.5 C33.6 104 34 98 35.5 92.7 C36.7 88.7 39 86 42 85.2 C44.4 84.6 45.8 85.8 45.6 87.6 C45.3 90 43.5 91.6 41.5 93.2 C38.8 95.6 37.6 99 37.2 103 C36.9 106 36.9 109 36.8 111.5"/></g><g fill="none" stroke="#7a7a7a" stroke-width="0.65"><path d="M32.7 111.5 C32.5 103.5 32.9 97 34.3 91.5 C35.6 87.2 38.3 84.5 41.8 83.7 C45 83.1 46.9 84.1 46.9 86.5 C46.9 89.4 45 91.4 42.8 93 C39.8 95.3 38.4 99 38 102.5 C37.6 105.8 37.7 108.6 37.6 111.5"/><path d="M34.8 111.5 C34.7 105 35.2 99 36.5 94 C37.4 90.5 39.3 87.7 41.7 86.7 C43.5 86.1 44.4 86.9 44.2 88.3 C43.8 90 42.4 91.2 40.8 92.7 C38.1 95.3 36.6 99.5 36.2 104 C36 106.6 35.9 109 35.8 111.5"/></g><ellipse cx="41.2" cy="88.8" rx="1.2" ry="2.1" transform="rotate(35 41.2 88.8)" fill="#4a4a4a"/></g>
<path d="M29.7 111.8 C29.2 104 28.8 97 29.9 92 C31 86 32.5 82.5 35.2 80.2 C39 78.4 43 77.6 46.3 77.1 C49 77 51 78.8 53.2 78.4 C55 77.6 56.5 77.2 57.8 77.4 C60 77.8 61.5 79.2 63.5 78.7 C65 78.2 66.5 76.8 68.1 77.2 C69.6 77.8 69.4 79.6 68 80.2 C66.5 80.9 65 80.8 64.2 81.6 C64 82.8 65.2 83.8 64.7 85 C63 87.5 61 89.5 59 91.8 C57 94 55.3 95.6 53.2 96.9 C51 98.2 48.6 99.3 46.3 100.4 C44.2 101.7 42.2 102.9 40.6 104.4 C40 106.5 40.1 109 40 111.8 Z" fill="none" stroke="#4a4a4a" stroke-width="0.9" stroke-linejoin="round"/>
<path d="M53.2 78.4 C55 77.6 56.5 77.2 57.8 77.4 C60 77.8 61.5 79.2 63.5 78.7 C65 78.2 66.5 76.8 68.1 77.2 C69.6 77.8 69.4 79.6 68 80.2 C66.5 80.9 65 80.8 64.2 81.6 C64 82.8 65.2 83.8 64.7 85 C63 87.5 61 89.5 59 91.8 C57 94 55.3 95.6 53.2 96.9 C51 98.2 48.6 99.3 46.3 100.4 C44.2 101.7 42.2 102.9 40.6 104.4" fill="none" stroke="#151515" stroke-width="1.7" stroke-linejoin="round" stroke-linecap="round"/>
<rect x="114.6" y="38.3" width="72.60" height="73.70" fill="#fff" stroke="#969696" stroke-width="0.75"/>
<path d="M115.6 112.7H186.2" stroke="#9a9a9a" stroke-width="0.6" stroke-dasharray="1.3 0.9 2.1 0.7 0.8 1.1"/>
<clipPath id="cp2"><path d="M121.6 111.8 C121.3 105 121.2 98 122 93 C122.5 88.5 123.2 85.6 124.5 83.6 C125.6 82 126.9 81 128.3 80.5 C130.8 80.3 133.4 79.8 135.8 79.2 C137.4 79.9 139 80.6 140.4 81.5 C139.8 83 138.8 84.4 138.6 86 C139.5 87 140.6 87.8 141.5 88.9 C142.6 90.2 143.6 91.4 144.4 92.9 C145 94.8 145.8 96.6 146.1 98.6 C145.6 100 144.8 101.4 143.8 102.6 C142.5 104 141 105.3 139.8 106.7 C140.2 107.6 140.8 108.3 141.5 108.9 C143.2 109.5 145 110.2 146.7 111.8 Z"/></clipPath>
<path d="M121.6 111.8 C121.3 105 121.2 98 122 93 C122.5 88.5 123.2 85.6 124.5 83.6 C125.6 82 126.9 81 128.3 80.5 C130.8 80.3 133.4 79.8 135.8 79.2 C137.4 79.9 139 80.6 140.4 81.5 C139.8 83 138.8 84.4 138.6 86 C139.5 87 140.6 87.8 141.5 88.9 C142.6 90.2 143.6 91.4 144.4 92.9 C145 94.8 145.8 96.6 146.1 98.6 C145.6 100 144.8 101.4 143.8 102.6 C142.5 104 141 105.3 139.8 106.7 C140.2 107.6 140.8 108.3 141.5 108.9 C143.2 109.5 145 110.2 146.7 111.8 Z" fill="#727272"/>
<g clip-path="url(#cp2)"><path d="M124 111 C123.5 101 124 92 126.5 86.5 C129 82.5 133 82 136 83 C136.5 86 136.5 88 138 90.5 C140.5 93.5 142.5 96 142.5 99 C141 102 138.5 104.5 136 107 L135.5 111 Z" fill="#bbbbbb" filter="url(#bl)"/><path d="M124.5 109 C124 100 125 92 127.5 87.5 C129.5 84.5 132.5 84 133.5 86 C133.5 90 132 93 131 97 C130.5 101 130.5 105 130.5 109 Z" fill="#ececec" filter="url(#bl2)"/></g>
<path d="M136.5 38.3V112.0M114.6 93.3H187.2" stroke="#8a8a8a" stroke-width="0.7" fill="none" opacity="0.85"/>
<g clip-path="url(#cp2)"><g fill="none" stroke="#fafafa" stroke-width="0.75"><path d="M122.8 111.5 C122.5 104 122.6 98 123.6 92.5 C124.6 88 126.5 84.6 129.4 83.2 C132 82.2 134 83 134.4 85.2 C134.6 88 133.2 91 132 93.5 C130.6 97 131 100 130.5 103.5 C130.2 106.5 130.5 109 130.4 111.5"/><path d="M124.8 111.5 C124.7 105 125 99.5 126 94.5 C126.8 90.6 128.3 87.5 130.2 86.2 C131.7 85.4 132.4 86.3 132.2 88 C131.8 90.8 130.5 93.4 129.6 96.5 C128.7 100 128.9 103.5 128.7 107 C128.6 108.5 128.6 110 128.6 111.5"/></g><g fill="none" stroke="#7a7a7a" stroke-width="0.65"><path d="M123.8 111.5 C123.6 104.5 123.8 98.8 124.8 93.5 C125.7 89.3 127.4 86 129.8 84.7 C131.8 83.8 133.2 84.7 133.3 86.6 C133.4 89.4 132.1 92.2 131 95 C129.8 98.5 129.9 101.8 129.6 105.2 C129.4 107.4 129.5 109.4 129.4 111.5"/><path d="M125.8 111.5 C125.8 106 126.2 101 127 96.5 C127.6 93 128.7 90.1 130 88.8 C130.9 88.2 131.2 89 131 90.2 C130.4 92.7 129.3 95.5 128.6 98.5 C127.9 102 127.9 105.5 127.7 108.5 L127.6 111.5"/></g></g>
<path d="M121.6 111.8 C121.3 105 121.2 98 122 93 C122.5 88.5 123.2 85.6 124.5 83.6 C125.6 82 126.9 81 128.3 80.5 C130.8 80.3 133.4 79.8 135.8 79.2 C137.4 79.9 139 80.6 140.4 81.5 C139.8 83 138.8 84.4 138.6 86 C139.5 87 140.6 87.8 141.5 88.9 C142.6 90.2 143.6 91.4 144.4 92.9 C145 94.8 145.8 96.6 146.1 98.6 C145.6 100 144.8 101.4 143.8 102.6 C142.5 104 141 105.3 139.8 106.7 C140.2 107.6 140.8 108.3 141.5 108.9 C143.2 109.5 145 110.2 146.7 111.8 Z" fill="none" stroke="#4a4a4a" stroke-width="0.9" stroke-linejoin="round"/>
<path d="M128.3 80.5 C130.8 80.3 133.4 79.8 135.8 79.2 C137.4 79.9 139 80.6 140.4 81.5 C139.8 83 138.8 84.4 138.6 86 C139.5 87 140.6 87.8 141.5 88.9 C142.6 90.2 143.6 91.4 144.4 92.9 C145 94.8 145.8 96.6 146.1 98.6 C145.6 100 144.8 101.4 143.8 102.6 C142.5 104 141 105.3 139.8 106.7 C140.2 107.6 140.8 108.3 141.5 108.9 C143.2 109.5 145 110.2 146.7 111.8" fill="none" stroke="#151515" stroke-width="1.7" stroke-linejoin="round" stroke-linecap="round"/>
<g font-family="Liberation Serif, serif" font-weight="bold" fill="#161616" stroke="#161616" stroke-width="0.2">
<text x="62.3" y="33" text-anchor="middle" font-size="9.6">NP</text>
<text x="148.9" y="33" text-anchor="middle" font-size="9.6">RSA</text>
<text x="81.8" y="70.0" text-anchor="middle" font-size="10">14.3</text>
<text x="76.5" y="108.4" text-anchor="middle" font-size="10">37.4</text>
<text x="172" y="70.0" text-anchor="middle" font-size="10">3.25</text>
<text x="164" y="107.6" text-anchor="middle" font-size="10">69.1</text>
<text x="135.5" y="124.5" font-size="9.9">Tim-3</text>
<text transform="translate(10.4,78.3) rotate(-90)" text-anchor="middle" font-size="10.2">CTLA-4</text>
</g>
<g stroke="#161616" fill="none" stroke-width="2" stroke-linecap="butt" stroke-linejoin="miter">
<path d="M19.1 98.2V56.5"/><path d="M15.6 61.8L19.1 56L22.6 61.8" stroke-width="1.9"/>
<path d="M37.4 120.4H126" stroke-width="2.1"/><path d="M120.6 116.6L126.8 120.4L120.6 124.2" stroke-width="2"/>
<path d="M61.4 105H42.6" stroke-width="2.2"/><path d="M47.1 101.2L41.3 105L47.1 108.8" stroke-width="2.1"/>
<path d="M150.6 103.4H131.2" stroke-width="2.2"/><path d="M135.6 99.6L129.8 103.4L135.6 107.2" stroke-width="2.1"/>
</g>
</svg>
</body></html>
